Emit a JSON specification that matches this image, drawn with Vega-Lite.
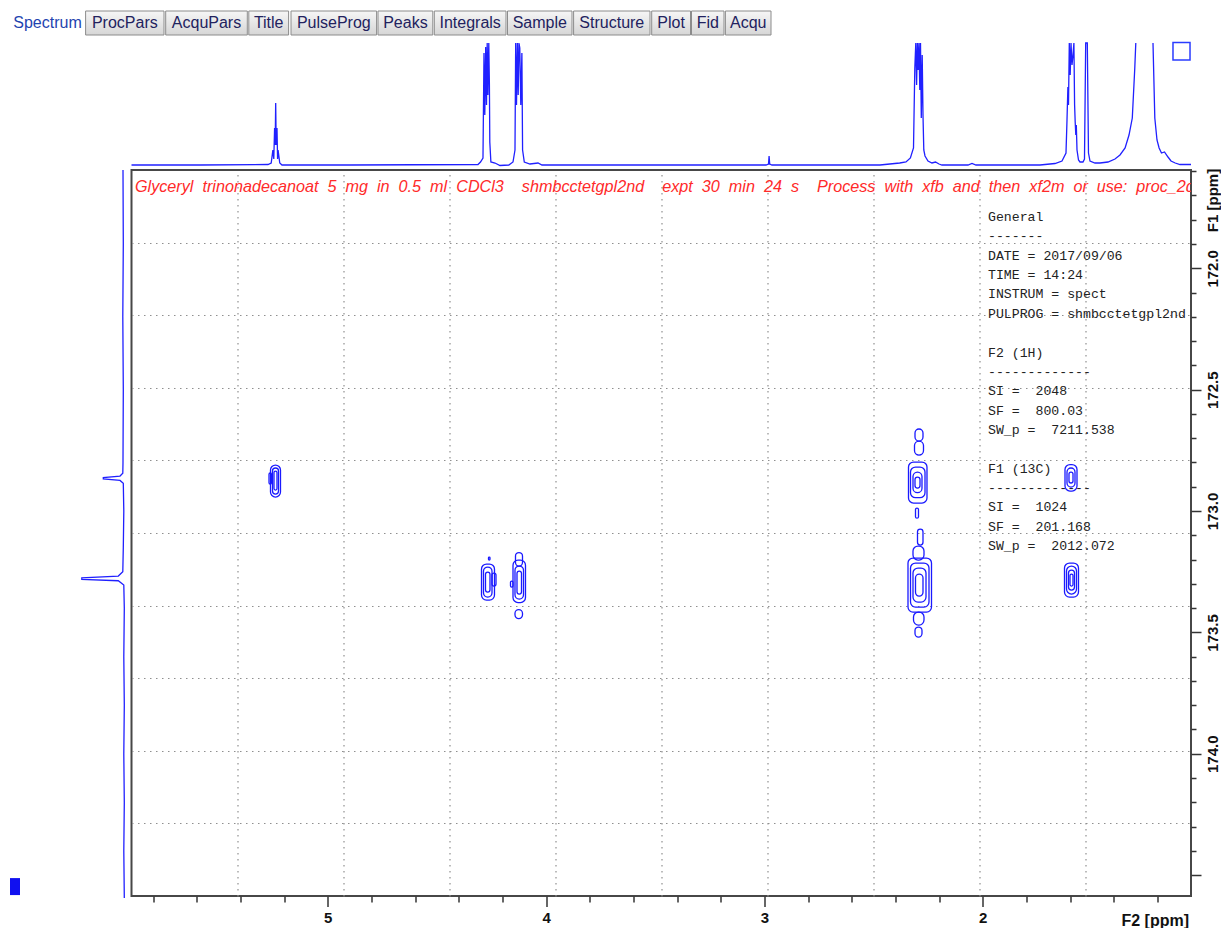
{
"$schema":"https://vega.github.io/schema/vega-lite/v6.json",
"width":1059.5,"height":726,"autosize":"none",
"padding":{"left":131.5,"top":170,"right":30,"bottom":32},
"background":"#ffffff",
"config":{"view":{"stroke":"#474747","strokeWidth":2},"font":"Liberation Sans","axis":{"domain":false}},
"resolve":{"scale":{"x":"independent","y":"independent"},"axis":{"x":"independent","y":"independent"}},
"datasets":{
"tabs":[
{"tab":"Spectrum","start":10,"end":85,"sel":1},
{"tab":"ProcPars","start":85.6,"end":164,"sel":0},
{"tab":"AcquPars","start":165.7,"end":247.3,"sel":0},
{"tab":"Title","start":248.8,"end":288.6,"sel":0},
{"tab":"PulseProg","start":291,"end":376.6,"sel":0},
{"tab":"Peaks","start":378,"end":432.8,"sel":0},
{"tab":"Integrals","start":434.3,"end":506,"sel":0},
{"tab":"Sample","start":507.5,"end":572,"sel":0},
{"tab":"Structure","start":573.6,"end":650,"sel":0},
{"tab":"Plot","start":651.7,"end":690.5,"sel":0},
{"tab":"Fid","start":691.5,"end":724,"sel":0},
{"tab":"Acqu","start":725.4,"end":771,"sel":0}
],
"contours":[
{"pk":"A","x1":5.2625,"x2":5.2167,"y1":172.8105,"y2":172.9423},
{"pk":"A","x1":5.2533,"x2":5.2258,"y1":172.8228,"y2":172.9300},
{"pk":"A","x1":5.2465,"x2":5.2327,"y1":172.8352,"y2":172.9135},
{"pk":"A","x1":5.2693,"x2":5.2579,"y1":172.8434,"y2":172.8887},
{"pk":"B","x1":4.2959,"x2":4.2364,"y1":173.2184,"y2":173.3668},
{"pk":"B","x1":4.2868,"x2":4.2478,"y1":173.2308,"y2":173.3544},
{"pk":"B","x1":4.2776,"x2":4.2570,"y1":173.2514,"y2":173.3338},
{"pk":"B","x1":4.2478,"x2":4.2295,"y1":173.2555,"y2":173.3091},
{"pk":"B","x1":4.2639,"x2":4.2570,"y1":173.1896,"y2":173.2019},
{"pk":"C","x1":4.1516,"x2":4.0944,"y1":173.2023,"y2":173.3770},
{"pk":"C","x1":4.1402,"x2":4.1081,"y1":173.1710,"y2":173.2266},
{"pk":"C","x1":4.1425,"x2":4.1035,"y1":173.2266,"y2":173.3626},
{"pk":"C","x1":4.1333,"x2":4.1127,"y1":173.2472,"y2":173.3420},
{"pk":"C","x1":4.1631,"x2":4.1516,"y1":173.2884,"y2":173.3131},
{"pk":"C","x1":4.1425,"x2":4.1081,"y1":173.4059,"y2":173.4430},
{"pk":"D","x1":2.3101,"x2":2.2735,"y1":172.6621,"y2":172.7116},
{"pk":"D","x1":2.3124,"x2":2.2712,"y1":172.7116,"y2":172.7693},
{"pk":"D","x1":2.3399,"x2":2.2552,"y1":172.7981,"y2":172.9671},
{"pk":"D","x1":2.3307,"x2":2.2643,"y1":172.8187,"y2":172.9448},
{"pk":"D","x1":2.3193,"x2":2.2781,"y1":172.8393,"y2":172.9242},
{"pk":"D","x1":2.3101,"x2":2.2872,"y1":172.8599,"y2":172.9053},
{"pk":"D","x1":2.3078,"x2":2.2941,"y1":172.9880,"y2":173.0292},
{"pk":"D","x1":2.2987,"x2":2.2735,"y1":173.0742,"y2":173.1401},
{"pk":"D","x1":2.3193,"x2":2.2689,"y1":173.1442,"y2":173.2019},
{"pk":"D","x1":2.3422,"x2":2.2345,"y1":173.1937,"y2":173.4162},
{"pk":"D","x1":2.3307,"x2":2.2460,"y1":173.2142,"y2":173.3956},
{"pk":"D","x1":2.3193,"x2":2.2597,"y1":173.2348,"y2":173.3750},
{"pk":"D","x1":2.3078,"x2":2.2735,"y1":173.2596,"y2":173.3502},
{"pk":"D","x1":2.3170,"x2":2.2689,"y1":173.4162,"y2":173.4698},
{"pk":"D","x1":2.3101,"x2":2.2781,"y1":173.4780,"y2":173.5192},
{"pk":"E","x1":1.6230,"x2":1.5680,"y1":172.8084,"y2":172.9176},
{"pk":"E","x1":1.6138,"x2":1.5772,"y1":172.8228,"y2":172.9011},
{"pk":"E","x1":1.6047,"x2":1.5863,"y1":172.8393,"y2":172.8846},
{"pk":"E","x1":1.6253,"x2":1.5612,"y1":173.2142,"y2":173.3544},
{"pk":"E","x1":1.6161,"x2":1.5703,"y1":173.2266,"y2":173.3420},
{"pk":"E","x1":1.6070,"x2":1.5795,"y1":173.2431,"y2":173.3255},
{"pk":"E","x1":1.6001,"x2":1.5863,"y1":173.2596,"y2":173.3091}
],
"top1d":[
{"h":5.8992,"i":0},{"h":5.5854,"i":0},{"h":5.2740,"i":0.5},{"h":5.2593,"i":2},{"h":5.2515,"i":15},{"h":5.2474,"i":6},{"h":5.2437,"i":37},{"h":5.2410,"i":20},{"h":5.2387,"i":62},{"h":5.2364,"i":20},{"h":5.2327,"i":37},{"h":5.2300,"i":6},{"h":5.2277,"i":15},{"h":5.2200,"i":2},{"h":5.2098,"i":0},{"h":4.8983,"i":0},
{"h":4.3120,"i":0.5},{"h":4.3005,"i":3},{"h":4.2891,"i":7},{"h":4.2845,"i":112},{"h":4.2808,"i":50},{"h":4.2767,"i":118},{"h":4.2730,"i":60},{"h":4.2698,"i":122},{"h":4.2666,"i":70},{"h":4.2625,"i":122},{"h":4.2597,"i":80},{"h":4.2579,"i":23},{"h":4.2529,"i":3},{"h":4.2341,"i":2},{"h":4.2112,"i":-0.5},{"h":4.1708,"i":0},
{"h":4.1516,"i":3},{"h":4.1425,"i":15},{"h":4.1393,"i":122},{"h":4.1356,"i":60},{"h":4.1315,"i":122},{"h":4.1278,"i":70},{"h":4.1242,"i":122},{"h":4.1205,"i":117},{"h":4.1159,"i":60},{"h":4.1109,"i":112},{"h":4.1077,"i":15},{"h":4.0999,"i":3},{"h":4.0738,"i":1},{"h":4.0371,"i":2},{"h":4.0188,"i":0},{"h":3.5241,"i":0},
{"h":2.9927,"i":0},{"h":2.9812,"i":1},{"h":2.9785,"i":9},{"h":2.9757,"i":1},{"h":2.9652,"i":0},{"h":2.4705,"i":0},
{"h":2.3802,"i":2},{"h":2.3514,"i":3},{"h":2.3312,"i":7},{"h":2.3170,"i":17},{"h":2.3110,"i":97},{"h":2.3065,"i":122},{"h":2.3028,"i":80},{"h":2.2991,"i":122},{"h":2.2955,"i":95},{"h":2.2918,"i":122},{"h":2.2881,"i":75},{"h":2.2849,"i":122},{"h":2.2813,"i":47},{"h":2.2771,"i":110},{"h":2.2735,"i":50},{"h":2.2698,"i":15},{"h":2.2643,"i":9},{"h":2.2506,"i":4},{"h":2.2323,"i":2},{"h":2.2162,"i":3},{"h":2.2002,"i":1},{"h":2.1864,"i":0},
{"h":2.0673,"i":0},{"h":2.0490,"i":1.5},{"h":2.0307,"i":0},{"h":1.7375,"i":0},{"h":1.6688,"i":1.5},{"h":1.6367,"i":4},{"h":1.6184,"i":12},{"h":1.6138,"i":45},{"h":1.6097,"i":78},{"h":1.6070,"i":60},{"h":1.6033,"i":122},{"h":1.5992,"i":90},{"h":1.5955,"i":122},{"h":1.5909,"i":100},{"h":1.5864,"i":110},{"h":1.5822,"i":122},{"h":1.5790,"i":60},{"h":1.5763,"i":43},{"h":1.5735,"i":30},{"h":1.5712,"i":40},{"h":1.5680,"i":15},{"h":1.5611,"i":5},{"h":1.5543,"i":3},{"h":1.5406,"i":3},{"h":1.5337,"i":6},{"h":1.5282,"i":122},{"h":1.5245,"i":122},{"h":1.5208,"i":122},{"h":1.5154,"i":12},{"h":1.5085,"i":4},{"h":1.4856,"i":2},{"h":1.4627,"i":2},{"h":1.4260,"i":3},{"h":1.3940,"i":6},{"h":1.3711,"i":10},{"h":1.3477,"i":17},{"h":1.3298,"i":30},{"h":1.3147,"i":47},{"h":1.3033,"i":97},{"h":1.2987,"i":122},
{"h":1.2199,"i":122,"s":2},{"h":1.2116,"i":47,"s":2},{"h":1.2016,"i":25,"s":2},{"h":1.1919,"i":17,"s":2},{"h":1.1810,"i":12,"s":2},{"h":1.1672,"i":13,"s":2},{"h":1.1512,"i":8,"s":2},{"h":1.1374,"i":4,"s":2},{"h":1.1182,"i":2,"s":2},{"h":1.0962,"i":0.5,"s":2},{"h":1.0458,"i":0.5,"s":2}
],
"left1d":[
{"c":171.595,"i":0.3},{"c":171.90,"i":0},{"c":172.20,"i":0.5},{"c":172.50,"i":0},{"c":172.80,"i":0.3},{"c":172.8447,"i":0.5},{"c":172.8560,"i":3.3},{"c":172.8620,"i":20},{"c":172.8680,"i":20},{"c":172.8740,"i":3.3},{"c":172.8859,"i":0},{"c":173.00,"i":-0.5},{"c":173.15,"i":0},{"c":173.2501,"i":0.5},{"c":173.2678,"i":5},{"c":173.2750,"i":41.5},{"c":173.2820,"i":41.5},{"c":173.2872,"i":5},{"c":173.3049,"i":-0.5},{"c":173.40,"i":-1},{"c":173.60,"i":-0.5},{"c":173.80,"i":-1},{"c":174.00,"i":-0.5},{"c":174.20,"i":-1},{"c":174.40,"i":-0.5},{"c":174.5946,"i":-1}
],
"header":[{"t":"Glyceryl\u00a0 trinonadecanoat\u00a0 5\u00a0 mg\u00a0 in\u00a0 0.5\u00a0 ml\u00a0 CDCl3\u00a0 \u00a0 shmbcctetgpl2nd\u00a0 \u00a0 expt\u00a0 30\u00a0 min\u00a0 24\u00a0 s\u00a0 \u00a0 Process\u00a0 with\u00a0 xfb\u00a0 and\u00a0 then\u00a0 xf2m\u00a0 or\u00a0 use:\u00a0 proc_2d"}],
"params":[
{"blk":1,"t":"General\n-------\nDATE = 2017/09/06\nTIME = 14:24\nINSTRUM = spect\nPULPROG = shmbcctetgpl2nd"},
{"blk":2,"t":"F2 (1H)\n-------------\nSI =\u00a0 2048\nSF =\u00a0 800.03\nSW_p =\u00a0 7211.538"},
{"blk":3,"t":"F1 (13C)\n-------------\nSI =\u00a0 1024\nSF =\u00a0 201.168\nSW_p =\u00a0 2012.072"}
]
},
"layer":[
{"data":{"name":"tabs"},"transform":[{"filter":"datum.sel == 0"}],
 "mark":{"type":"rect","stroke":"#8c8c8c","strokeWidth":1,"fill":{"gradient":"linear","x1":0,"y1":0,"x2":0,"y2":1,"stops":[{"offset":0,"color":"#f6f6f6"},{"offset":1,"color":"#d6d6d6"}]}},
 "encoding":{
  "x":{"field":"start","type":"quantitative","scale":{"domain":[131.5,1191],"nice":false,"zero":false},"axis":null},
  "x2":{"field":"end"},
  "y":{"datum":11,"type":"quantitative","scale":{"domain":[170,896],"reverse":true,"nice":false,"zero":false},"axis":null},
  "y2":{"datum":35}}},
{"data":{"name":"tabs"},"transform":[{"calculate":"(datum.start + datum.end) / 2","as":"mid"}],
 "mark":{"type":"text","fontSize":16,"align":"center","baseline":"middle"},
 "encoding":{
  "x":{"field":"mid","type":"quantitative","scale":{"domain":[131.5,1191],"nice":false,"zero":false},"axis":null},
  "y":{"datum":23,"type":"quantitative","scale":{"domain":[170,896],"reverse":true,"nice":false,"zero":false},"axis":null},
  "text":{"field":"tab"},
  "color":{"field":"sel","type":"nominal","scale":{"domain":[0,1],"range":["#22225e","#1f44b0"]},"legend":null}}},
{"data":{"values":[{"gx":3,"gy":173}]},
 "mark":{"type":"point","opacity":0},
 "encoding":{
  "x":{"field":"gx","type":"quantitative","scale":{"domain":[1.0458,5.8992],"reverse":true,"nice":false,"zero":false},
   "axis":{"orient":"bottom","values":[5.414,4.9286,4.4433,3.9579,3.4726,2.9872,2.5019,2.0165,1.5312],"grid":true,"gridDash":[1.5,4.5],"gridColor":"#8f8f8f","gridWidth":1.2,"ticks":false,"labels":false,"domain":false,"title":null}},
  "y":{"field":"gy","type":"quantitative","scale":{"domain":[171.595,174.586],"reverse":true,"nice":false,"zero":false},
   "axis":{"orient":"right","values":[171.8941,172.1932,172.4923,172.7914,173.0905,173.3896,173.6887,173.9878,174.2869],"grid":true,"gridDash":[1.5,4.5],"gridColor":"#8f8f8f","gridWidth":1.2,"ticks":false,"labels":false,"domain":false,"title":null}}}},
{"data":{"values":[{"gx":3,"gy":173}]},
 "mark":{"type":"point","opacity":0},
 "encoding":{
  "x":{"field":"gx","type":"quantitative","scale":{"domain":[1.0458,5.8992],"reverse":true,"nice":false,"zero":false},
   "axis":{"orient":"bottom","values":[1.2,1.4,1.6,1.8,2.2,2.4,2.6,2.8,3.2,3.4,3.6,3.8,4.2,4.4,4.6,4.8,5.2,5.4,5.6,5.8],"tickSize":6,"tickWidth":1.5,"tickColor":"#333333","labels":false,"grid":false,"domain":false,"title":null}},
  "y":{"field":"gy","type":"quantitative","scale":{"domain":[171.595,174.586],"reverse":true,"nice":false,"zero":false},
   "axis":{"orient":"right","values":[171.6,171.7,171.8,171.9,172.1,172.2,172.3,172.4,172.6,172.7,172.8,172.9,173.1,173.2,173.3,173.4,173.6,173.7,173.8,173.9,174.1,174.2,174.3,174.4],"tickSize":5,"tickWidth":1.5,"tickColor":"#333333","labels":false,"grid":false,"domain":false,"title":null}}}},
{"data":{"name":"contours"},
 "mark":{"type":"rect","fill":"transparent","stroke":"#1a1aff","strokeWidth":1.3,"cornerRadius":5},
 "encoding":{
  "x":{"field":"x1","type":"quantitative","scale":{"domain":[1.0458,5.8992],"reverse":true,"nice":false,"zero":false},
   "axis":{"orient":"bottom","values":[1,2,3,4,5],"tickSize":10.5,"tickWidth":1.5,"tickColor":"#333333","grid":false,"domain":false,"labelFontSize":15,"labelFontWeight":"bold","labelColor":"#111111","labelPadding":4,"labelFlush":false,"title":"F2 [ppm]","titleFontSize":16,"titleFontWeight":"bold","titleColor":"#111111","titleAnchor":"end","titleAlign":"right","titleBaseline":"alphabetic","titleX":1057,"titleY":29}},
  "x2":{"field":"x2"},
  "y":{"field":"y1","type":"quantitative","scale":{"domain":[171.595,174.586],"reverse":true,"nice":false,"zero":false},
   "axis":{"orient":"right","values":[172,172.5,173,173.5,174,174.5],"tickSize":10,"tickWidth":1.5,"tickColor":"#333333","grid":false,"domain":false,"labelFontSize":15,"labelFontWeight":"bold","labelColor":"#111111","labelAngle":270,"labelAlign":"center","labelBaseline":"top","labelPadding":4,"labelFlush":false,"labelOverlap":false,"labelExpr":"datum.value > 174.4 ? '' : format(datum.value, '.1f')","title":"F1 [ppm]","titleFontSize":15,"titleFontWeight":"bold","titleColor":"#111111","titleAngle":270,"titleAlign":"center","titleBaseline":"top","titleX":14,"titleY":30}},
  "y2":{"field":"y2"}}},
{"data":{"name":"header"},
 "mark":{"type":"text","clip":true,"align":"left","baseline":"middle","fontSize":16.2,"fontStyle":"italic","color":"#ff2a2a"},
 "encoding":{
  "x":{"datum":5.8832,"type":"quantitative","scale":{"domain":[1.0458,5.8992],"reverse":true,"nice":false,"zero":false},"axis":null},
  "y":{"datum":171.665,"type":"quantitative","scale":{"domain":[171.595,174.586],"reverse":true,"nice":false,"zero":false},"axis":null},
  "text":{"field":"t"}}},
{"data":{"name":"params"},"transform":[{"filter":"datum.blk == 1"}],
 "mark":{"type":"text","align":"left","baseline":"top","font":"Liberation Mono","fontSize":13.2,"lineBreak":"\n","lineHeight":19.35,"color":"#222222"},
 "encoding":{
  "x":{"datum":1.9757,"type":"quantitative","scale":{"domain":[1.0458,5.8992],"reverse":true,"nice":false,"zero":false},"axis":null},
  "y":{"datum":171.7639,"type":"quantitative","scale":{"domain":[171.595,174.586],"reverse":true,"nice":false,"zero":false},"axis":null},
  "text":{"field":"t"}}},
{"data":{"name":"params"},"transform":[{"filter":"datum.blk == 2"}],
 "mark":{"type":"text","align":"left","baseline":"top","font":"Liberation Mono","fontSize":13.2,"lineBreak":"\n","lineHeight":19.35,"color":"#222222"},
 "encoding":{
  "x":{"datum":1.9757,"type":"quantitative","scale":{"domain":[1.0458,5.8992],"reverse":true,"nice":false,"zero":false},"axis":null},
  "y":{"datum":172.3222,"type":"quantitative","scale":{"domain":[171.595,174.586],"reverse":true,"nice":false,"zero":false},"axis":null},
  "text":{"field":"t"}}},
{"data":{"name":"params"},"transform":[{"filter":"datum.blk == 3"}],
 "mark":{"type":"text","align":"left","baseline":"top","font":"Liberation Mono","fontSize":13.2,"lineBreak":"\n","lineHeight":19.35,"color":"#222222"},
 "encoding":{
  "x":{"datum":1.9757,"type":"quantitative","scale":{"domain":[1.0458,5.8992],"reverse":true,"nice":false,"zero":false},"axis":null},
  "y":{"datum":172.8006,"type":"quantitative","scale":{"domain":[171.595,174.586],"reverse":true,"nice":false,"zero":false},"axis":null},
  "text":{"field":"t"}}},
{"data":{"name":"top1d"},
 "mark":{"type":"line","color":"#2020ff","strokeWidth":1.3},
 "encoding":{
  "x":{"field":"h","type":"quantitative","scale":{"domain":[1.0458,5.8992],"reverse":true,"nice":false,"zero":false},"axis":null},
  "y":{"field":"i","type":"quantitative","scale":{"domain":[-731,-5],"nice":false,"zero":false},"axis":null},
  "detail":{"field":"s","type":"nominal"}}},
{"data":{"values":[{"k":1}]},
 "mark":{"type":"rect","fill":"transparent","stroke":"#2a3cff","strokeWidth":1.5},
 "encoding":{
  "x":{"datum":1.1283,"type":"quantitative","scale":{"domain":[1.0458,5.8992],"reverse":true,"nice":false,"zero":false},"axis":null},
  "x2":{"datum":1.0503},
  "y":{"datum":122.5,"type":"quantitative","scale":{"domain":[-731,-5],"nice":false,"zero":false},"axis":null},
  "y2":{"datum":105}}},
{"data":{"name":"left1d"},
 "mark":{"type":"line","color":"#2020ff","strokeWidth":1.3},
 "encoding":{
  "x":{"field":"i","type":"quantitative","scale":{"domain":[-1067.7,-8.2],"reverse":true,"nice":false,"zero":false},"axis":null},
  "y":{"field":"c","type":"quantitative","scale":{"domain":[171.595,174.586],"reverse":true,"nice":false,"zero":false},"axis":null},
  "order":{"field":"c","type":"quantitative"}}},
{"data":{"values":[{"k":1}]},
 "mark":{"type":"rect","fill":"#1010f0"},
 "encoding":{
  "x":{"datum":113.3,"type":"quantitative","scale":{"domain":[-1067.7,-8.2],"reverse":true,"nice":false,"zero":false},"axis":null},
  "x2":{"datum":103.3},
  "y":{"datum":174.5122,"type":"quantitative","scale":{"domain":[171.595,174.586],"reverse":true,"nice":false,"zero":false},"axis":null},
  "y2":{"datum":174.5822}}}
]
}
